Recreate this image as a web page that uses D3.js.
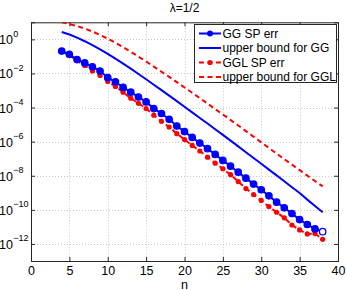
<!DOCTYPE html>
<html><head><meta charset="utf-8">
<script src="https://cdn.jsdelivr.net/npm/d3@7"></script>
<style>body{margin:0;background:#fff}svg{display:block}</style>
</head><body><svg id="c" width="346" height="290"></svg>
<script>
const nValues = [4,5,6,7,8,9,10,11,12,13,14,15,16,17,18,19,20,21,22,23,24,25,26,27,28,29,30,31,32,33,34,35,36,37,38];
const ggSpErr = [2.04e-1,1.32e-1,6.6e-2,4.17e-2,2.45e-2,1.38e-2,5.75e-3,3.24e-3,1.51e-3,7.94e-4,4.17e-4,2.14e-4,8.7e-5,4.47e-5,2.04e-5,8.3e-6,3.89e-6,1.78e-6,8.3e-7,3.89e-7,1.78e-7,7.94e-8,3.63e-8,1.62e-8,7.24e-9,3.24e-9,1.51e-9,6.61e-10,2.82e-10,1.32e-10,6.03e-11,2.69e-11,1.38e-11,7.59e-12,5.25e-12];
const ggBound = [2.69,1.91,1.26,7.76e-1,4.57e-1,2.57e-1,1.41e-1,7.41e-2,3.8e-2,1.91e-2,9.33e-3,4.57e-3,2.19e-3,1.05e-3,5.01e-4,2.4e-4,1.12e-4,5.25e-5,2.45e-5,1.15e-5,5.37e-6,2.51e-6,1.15e-6,5.25e-7,2.4e-7,1.1e-7,5.01e-8,2.29e-8,1.05e-8,4.79e-9,2.14e-9,9.77e-10,3.98e-10,1.7e-10,7.24e-11];
const gglSpErr = [1.95e-1,1.15e-1,5.5e-2,2.95e-2,1.41e-2,7.59e-3,3.39e-3,1.74e-3,7.94e-4,3.55e-4,1.78e-4,8.7e-5,3.55e-5,1.55e-5,7.24e-6,2.95e-6,1.32e-6,6.03e-7,2.82e-7,1.23e-7,5.5e-8,2.57e-8,1.15e-8,4.57e-9,1.78e-9,7.94e-10,3.55e-10,1.55e-10,7.24e-11,3.39e-11,1.29e-11,6.61e-12,3.89e-12,4.07e-12,1.86e-12];
const gglBound = [10,7.94,6.03,4.27,2.88,1.82,1.10,6.31e-1,3.47e-1,1.86e-1,9.77e-2,5.01e-2,2.51e-2,1.26e-2,6.31e-3,3.09e-3,1.51e-3,7.41e-4,3.55e-4,1.7e-4,8.13e-5,3.89e-5,1.86e-5,8.91e-6,4.17e-6,1.95e-6,9.12e-7,4.27e-7,2.0e-7,9.33e-8,4.47e-8,2.14e-8,1.02e-8,4.9e-9,2.4e-9];
const xTicks = [0,5,10,15,20,25,30,35,40];
const yTickExps = [0,-2,-4,-6,-8,-10,-12];
const legendLabels = ["GG SP err","upper bound for GG","GGL SP err","upper bound for GGL"];
const titleText = "λ=1/2";
const xLabel = "n";

const W = 346, H = 290;
const L = 31, R = 338, T = 22.3, B = 261;
const FONT = "'Liberation Sans', Arial, Helvetica, sans-serif";
const svg = d3.select("#c");
const x = d3.scaleLinear().domain([0,40]).range([L,R]);
const y = d3.scaleLog().domain([1e-13,1e1]).range([B,T]);

svg.append("defs").append("clipPath").attr("id","clip")
  .append("rect").attr("x",L).attr("y",T).attr("width",R-L).attr("height",B-T);

// grid
const grid = svg.append("g").attr("stroke","#c8c8c8").attr("stroke-width",1).attr("stroke-dasharray","1,2");
xTicks.filter(t=>t>0&&t<40).forEach(t=>{
  grid.append("line").attr("x1",Math.round(x(t))+0.5).attr("x2",Math.round(x(t))+0.5).attr("y1",T).attr("y2",B);
});
yTickExps.forEach(e=>{
  const yy = Math.round(y(Math.pow(10,e)))+0.5;
  grid.append("line").attr("x1",L).attr("x2",R).attr("y1",yy).attr("y2",yy);
});

// axes via d3
const xAxisB = d3.axisBottom(x).tickValues(xTicks).tickSize(-4).tickPadding(5.5).tickFormat(d3.format("d"));
const gxb = svg.append("g").attr("transform",`translate(0,${B})`).call(xAxisB);
const gxt = svg.append("g").attr("transform",`translate(0,${T})`).call(d3.axisTop(x).tickValues(xTicks).tickSize(-4).tickFormat(""));
const yVals = yTickExps.map(e=>Math.pow(10,e));
const gyl = svg.append("g").attr("transform",`translate(${L},0)`).call(d3.axisLeft(y).tickValues(yVals).tickSize(-4).tickFormat(""));
const gyr = svg.append("g").attr("transform",`translate(${R},0)`).call(d3.axisRight(y).tickValues(yVals).tickSize(-4).tickFormat(""));
[gxb,gxt,gyl,gyr].forEach(g=>{
  g.select(".domain").attr("stroke","#262626").attr("stroke-width",1);
  g.selectAll(".tick line").attr("stroke","#262626");
});
gxb.selectAll(".tick text").attr("font-family",FONT).attr("font-size",12.5).attr("fill","#000").attr("dy","0.71em");

// y tick labels with superscripts
yTickExps.forEach(e=>{
  const yy = y(Math.pow(10,e));
  svg.append("text").attr("x",13).attr("y",yy+5).attr("text-anchor","end")
    .attr("font-family",FONT).attr("font-size",12.5).text("10");
  svg.append("text").attr("x",13.3).attr("y",yy-2.5)
    .attr("font-family",FONT).attr("font-size",9).text(e<0?"\u2212"+Math.abs(e):String(e));
});

// title & x label
svg.append("text").attr("x",(L+R)/2).attr("y",11.5).attr("text-anchor","middle")
  .attr("font-family",FONT).attr("font-size",12).text(titleText);
svg.append("text").attr("x",(L+R)/2).attr("y",288.5).attr("text-anchor","middle")
  .attr("font-family",FONT).attr("font-size",12.5).text(xLabel);

const plot = svg.append("g").attr("clip-path","url(#clip)");
const line = d3.line().x(d=>x(d[0])).y(d=>y(d[1]));
const zip = arr => nValues.map((n,i)=>[n,arr[i]]);
const BLUE = "#0000ff", RED = "#ff0000";

plot.append("path").datum(zip(gglBound)).attr("d",line).attr("fill","none")
  .attr("stroke",RED).attr("stroke-width",2).attr("stroke-dasharray","5,3.5");
plot.append("path").datum(zip(ggBound)).attr("d",line).attr("fill","none")
  .attr("stroke",BLUE).attr("stroke-width",2);
plot.append("path").datum(zip(gglSpErr)).attr("d",line).attr("fill","none")
  .attr("stroke",RED).attr("stroke-width",2).attr("stroke-dasharray","5,3.5");
plot.selectAll(".rd").data(zip(gglSpErr)).enter().append("circle")
  .attr("cx",d=>x(d[0])).attr("cy",d=>y(d[1])).attr("r",2.6).attr("fill",RED);
plot.append("path").datum(zip(ggSpErr)).attr("d",line).attr("fill","none")
  .attr("stroke",BLUE).attr("stroke-width",2);
plot.selectAll(".bd").data(zip(ggSpErr)).enter().append("circle")
  .attr("cx",d=>x(d[0])).attr("cy",d=>y(d[1])).attr("r",3.2)
  .attr("fill",(d,i)=>i===nValues.length-1?"#fff":BLUE).attr("stroke",BLUE).attr("stroke-width",1.3);

// legend
const lg = svg.append("g");
const LX0 = 194.5, LX1 = 336.5, LY0 = 24.5, LY1 = 82.5;
lg.append("rect").attr("x",LX0).attr("y",LY0).attr("width",LX1-LX0).attr("height",LY1-LY0)
  .attr("fill","#fff").attr("stroke","#262626").attr("stroke-width",1);
const rowsY = [33.5,48,62.5,77];
const styles = [
  {c:BLUE,dash:null,mk:"o"},
  {c:BLUE,dash:null,mk:null},
  {c:RED,dash:"5,3.5",mk:"."},
  {c:RED,dash:"5,3.5",mk:null}
];
legendLabels.forEach((lab,i)=>{
  const s = styles[i], yy = rowsY[i];
  const ln = lg.append("line").attr("x1",199).attr("x2",221).attr("y1",yy).attr("y2",yy)
    .attr("stroke",s.c).attr("stroke-width",2);
  if (s.dash) ln.attr("stroke-dasharray",s.dash);
  if (s.mk==="o") lg.append("circle").attr("cx",210).attr("cy",yy).attr("r",3).attr("fill",s.c);
  if (s.mk===".") lg.append("circle").attr("cx",210).attr("cy",yy).attr("r",2.6).attr("fill",s.c);
  lg.append("text").attr("x",222.5).attr("y",yy+4.2).attr("font-family",FONT).attr("font-size",12)
    .attr("fill","#000").text(lab);
});
</script></body></html>
